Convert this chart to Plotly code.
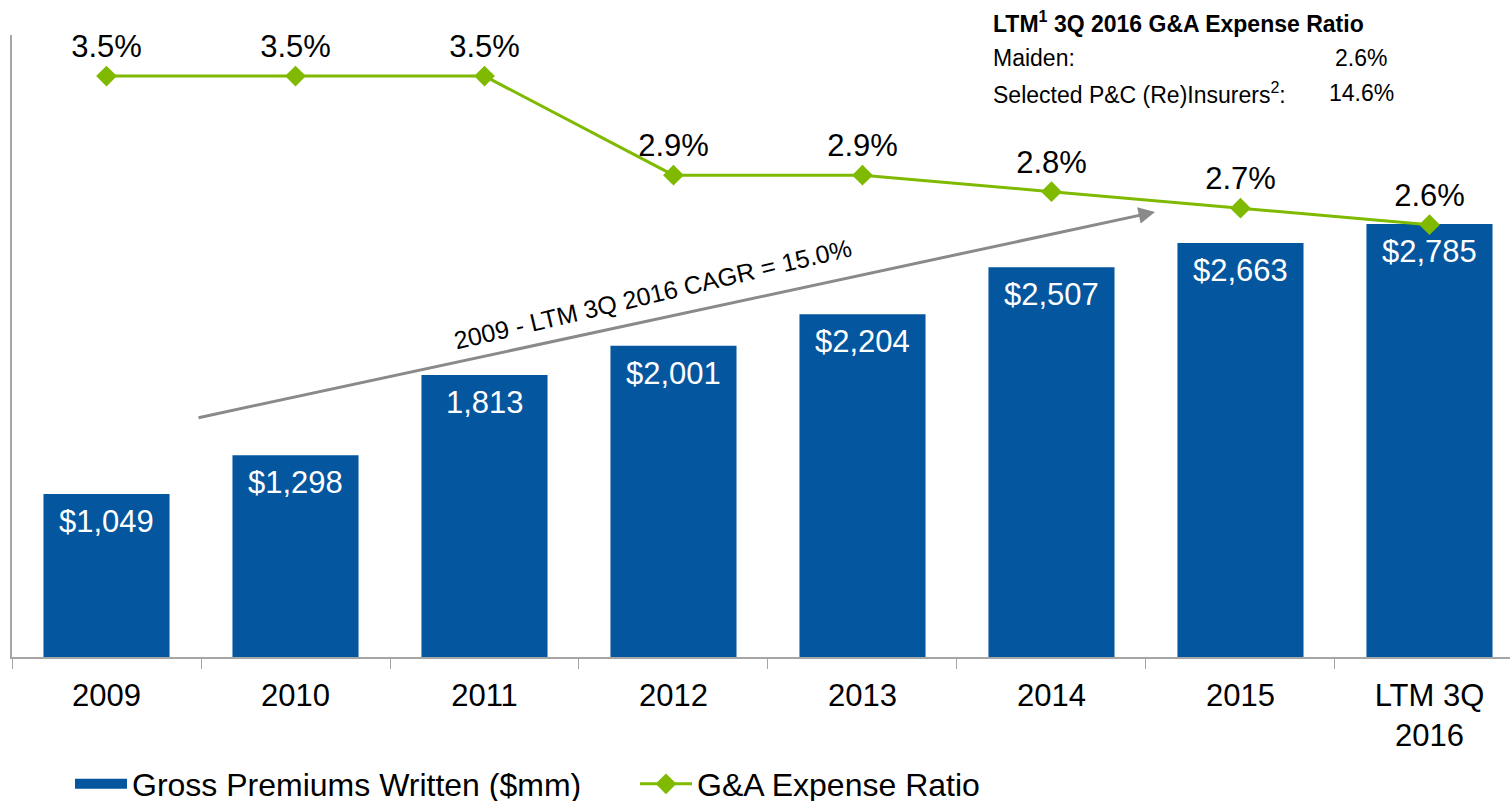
import plotly.graph_objects as go

categories = ["2009", "2010", "2011", "2012", "2013", "2014", "2015", "LTM 3Q<br>2016"]
gpw = [1049, 1298, 1813, 2001, 2204, 2507, 2663, 2785]
gpw_labels = ["$1,049", "$1,298", "1,813", "$2,001", "$2,204", "$2,507", "$2,663", "$2,785"]
ga_ratio = [3.5, 3.5, 3.5, 2.9, 2.9, 2.8, 2.7, 2.6]
ga_labels = ["3.5%", "3.5%", "3.5%", "2.9%", "2.9%", "2.8%", "2.7%", "2.6%"]

BLUE = "#04569E"
GREEN = "#7FBA00"
FONT = "Liberation Sans, Arial, sans-serif"
FS = 31

fig = go.Figure()
fig.add_trace(go.Bar(
    x=categories, y=gpw, name="Gross Premiums Written ($mm)",
    marker=dict(color=BLUE, line=dict(width=0)), width=0.667,
    showlegend=False,
))
# legend-only entry for the bars (wide rectangle swatch)
fig.add_trace(go.Scatter(
    x=[None], y=[None], mode="lines", name="Gross Premiums Written ($mm)",
    line=dict(color=BLUE, width=15),
))
fig.add_trace(go.Scatter(
    x=categories, y=ga_ratio, name="G&A Expense Ratio", yaxis="y2",
    mode="lines+markers+text",
    line=dict(color=GREEN, width=3),
    marker=dict(symbol="diamond", size=16, color=GREEN),
    text=ga_labels, textposition="top center",
    textfont=dict(color="black", size=FS, family=FONT),
    cliponaxis=False,
))

PW = 1498.0
def px(xp):
    return (xp - 12) / PW

def py(yp):
    return (657 - yp) / 622.0

ann = []
for i, (v, t) in enumerate(zip(gpw, gpw_labels)):
    ann.append(dict(xref="x", yref="y", x=i, y=v, yanchor="top", yshift=-8,
                    text=t, showarrow=False,
                    font=dict(color="white", size=FS, family=FONT)))

ann += [
    dict(xref="x", yref="y", axref="x", ayref="y",
         x=5.548, y=2862, ax=0.479, ay=1537,
         showarrow=True, arrowhead=2, arrowsize=1.1, arrowwidth=3,
         arrowcolor="#8A8A8A", text=""),
    dict(xref="x", yref="y", x=2.89, y=2335, text="2009 - LTM 3Q 2016 CAGR = 15.0%",
         showarrow=False, textangle=-13.3,
         font=dict(family="Liberation Sans Narrow, Arial Narrow, sans-serif", size=25, color="black")),
    dict(xref="paper", yref="paper", x=px(991), y=py(22), xanchor="left", yanchor="middle",
         text="<b>LTM<sup>1</sup> 3Q 2016 G&A Expense Ratio</b>", showarrow=False,
         font=dict(family=FONT, size=23, color="black")),
    dict(xref="paper", yref="paper", x=px(991), y=py(58), xanchor="left", yanchor="middle",
         text="Maiden:", showarrow=False, font=dict(family=FONT, size=23, color="black")),
    dict(xref="paper", yref="paper", x=px(1389), y=py(58), xanchor="right", yanchor="middle",
         text="2.6%", showarrow=False, font=dict(family=FONT, size=23, color="black")),
    dict(xref="paper", yref="paper", x=px(991), y=py(93), xanchor="left", yanchor="middle",
         text="Selected P&C (Re)Insurers<sup>2</sup>:", showarrow=False,
         font=dict(family=FONT, size=23, color="black")),
    dict(xref="paper", yref="paper", x=px(1396), y=py(93), xanchor="right", yanchor="middle",
         text="14.6%", showarrow=False, font=dict(family=FONT, size=23, color="black")),
]

fig.update_layout(
    width=1510, height=801,
    margin=dict(l=12, r=0, t=35, b=144, autoexpand=False),
    plot_bgcolor="white", paper_bgcolor="white",
    font=dict(family=FONT, size=FS, color="black"),
    showlegend=True,
    legend=dict(orientation="h", x=px(70), xanchor="left", y=py(784), yanchor="middle",
                font=dict(size=32, family=FONT), itemwidth=52, tracegroupgap=0,
                entrywidth=498, entrywidthmode="pixels", bgcolor="rgba(0,0,0,0)"),
    xaxis=dict(type="category", range=[-0.5, 7.426], showline=True, linecolor="#A6A6A6",
               linewidth=1.5, ticks="outside", tickson="boundaries", ticklen=10,
               tickcolor="#A6A6A6", tickfont=dict(size=FS, family=FONT), showgrid=False,
               fixedrange=True, automargin=False, ticklabelstandoff=10),
    yaxis=dict(range=[0, 4000], showline=True, linecolor="#A6A6A6", linewidth=1.5,
               showticklabels=False, ticks="", showgrid=False, zeroline=False, automargin=False),
    yaxis2=dict(range=[-0.018, 3.749], overlaying="y", visible=False, showgrid=False,
                zeroline=False, automargin=False),
    annotations=ann,
    bargap=0.333,
)

fig.write_html("out.html", config={"displayModeBar": False},
               post_script="document.body.style.margin='0';document.body.style.overflow='hidden';")
